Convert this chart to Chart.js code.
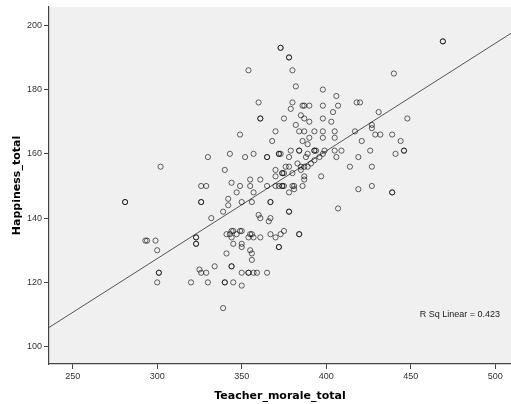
<!DOCTYPE html>
<html>
<head>
<meta charset="utf-8">
<title>Happiness vs Teacher morale</title>
<script src="https://cdn.jsdelivr.net/npm/chart.js"></script>
<style>
  html, body { margin: 0; padding: 0; background: #ffffff; }
  canvas { display: block; }
</style>
</head>
<body>
<canvas id="scatter" width="511" height="404"></canvas>
<script>
// values (duplicates = darker circles)
const teacherMorale = [
  373,373,469,469,378,378,354,380,440,382,398,406,360,380,418,420,386,387,390,398,
  407,379,431,404,385,361,361,375,387,398,448,390,403,382,427,427,370,384,387,393,
  398,405,417,349,429,432,439,390,398,405,368,386,421,444,389,379,384,384,393,393,
  394,399,405,409,426,446,446,343,357,372,372,373,389,398,441,330,352,365,365,378,
  388,396,406,419,393,383,391,302,376,378,385,387,389,414,427,340,370,385,374,374,
  375,380,370,387,397,355,361,387,344,326,329,349,355,365,370,372,374,374,375,380,
  381,386,427,381,419,347,357,378,439,439,342,281,281,326,326,350,356,367,367,342,
  407,339,378,378,360,332,361,367,366,344,345,349,350,375,341,343,347,355,356,367,
  373,384,384,323,323,344,354,357,361,370,293,294,299,323,323,345,350,372,372,350,
  300,355,341,356,356,334,344,344,325,301,301,326,329,350,354,354,357,359,365,300,
  320,330,340,340,345,350,339
];
const happiness = [
  193,193,195,195,190,190,186,186,185,181,180,178,176,176,176,176,175,175,175,175,
  175,174,173,173,172,171,171,171,171,171,171,170,170,169,169,168,167,167,167,167,
  167,167,167,166,166,166,166,165,165,165,164,164,164,164,163,161,161,161,161,161,
  161,161,161,161,161,161,161,160,160,160,160,160,160,160,160,159,159,159,159,159,
  159,159,159,159,158,157,157,156,156,156,156,156,156,156,156,155,155,155,154,154,
  154,154,153,153,153,152,152,152,151,150,150,150,150,150,150,150,150,150,150,150,
  150,150,150,149,149,148,148,148,148,148,146,145,145,145,145,145,145,145,145,144,
  143,142,142,142,141,140,140,140,139,136,136,136,136,136,135,135,135,135,135,135,
  135,135,135,134,134,134,134,134,134,134,133,133,133,132,132,132,132,131,131,131,
  130,130,129,129,127,125,125,125,124,123,123,123,123,123,123,123,123,123,123,120,
  120,120,120,120,120,119,112
];

// linear fit as drawn (R Sq Linear = 0.423)
const fitIntercept = 26.9;
const fitSlope = 0.335;
const rSqLabel = 'R Sq Linear = 0.423';

const xRange = [236, 509.3];
const yRange = [94.6, 205.7];
const xTicks = [250, 300, 350, 400, 450, 500];
const yTicks = [100, 120, 140, 160, 180, 200];

const points = teacherMorale.map((x, i) => ({ x: x, y: happiness[i] }));
const fitLine = xRange.map(x => ({ x: x, y: fitIntercept + fitSlope * x }));

const plotBg = {
  id: 'plotBg',
  beforeDraw(chart) {
    const { ctx, chartArea: a } = chart;
    ctx.save();
    ctx.fillStyle = '#f0f0f0';
    ctx.fillRect(a.left, a.top, a.right - a.left, a.bottom - a.top);
    ctx.restore();
  }
};

const rSqText = {
  id: 'rSqText',
  afterDatasetsDraw(chart) {
    const { ctx, chartArea: a, scales } = chart;
    ctx.save();
    ctx.font = '9px "Liberation Sans", Arial, sans-serif';
    ctx.fillStyle = '#222';
    ctx.textAlign = 'right';
    ctx.textBaseline = 'middle';
    ctx.fillText(rSqLabel, a.right - 11, scales.y.getPixelForValue(110));
    ctx.restore();
  }
};

const tickFont = { family: '"Liberation Sans", Arial, sans-serif', size: 9 };
const titleFont = { family: '"DejaVu Sans", sans-serif', size: 11, weight: 'bold' };

new Chart(document.getElementById('scatter').getContext('2d'), {
  type: 'scatter',
  data: {
    datasets: [
      {
        label: 'Fit',
        data: fitLine,
        showLine: true,
        borderColor: '#555',
        borderWidth: 1,
        pointRadius: 0,
        order: 2
      },
      {
        label: 'Happiness_total',
        data: points,
        pointStyle: 'circle',
        pointRadius: 2.6,
        borderWidth: 1,
        borderColor: 'rgba(0,0,0,0.6)',
        backgroundColor: 'rgba(0,0,0,0)',
        order: 1
      }
    ]
  },
  options: {
    responsive: false,
    animation: false,
    layout: { autoPadding: false, padding: { top: 7, left: 0, right: 0, bottom: 0 } },
    plugins: {
      legend: { display: false },
      tooltip: { enabled: false }
    },
    scales: {
      x: {
        type: 'linear',
        min: xRange[0],
        max: xRange[1],
        afterBuildTicks: s => { s.ticks = xTicks.map(v => ({ value: v })); },
        afterFit: s => { s.height = 40; s.paddingLeft = 0; s.paddingRight = 0; },
        grid: { drawOnChartArea: false, tickLength: 5, tickColor: '#444' },
        border: { color: '#444', width: 1.2 },
        ticks: { font: tickFont, color: '#333', padding: 2, maxRotation: 0 },
        title: { display: true, text: 'Teacher_morale_total', font: titleFont, color: '#000', padding: { top: 0, bottom: 1 } }
      },
      y: {
        type: 'linear',
        min: yRange[0],
        max: yRange[1],
        afterBuildTicks: s => { s.ticks = yTicks.map(v => ({ value: v })); },
        afterFit: s => { s.width = 49; s.paddingTop = 0; s.paddingBottom = 0; },
        grid: { drawOnChartArea: false, tickLength: 5, tickColor: '#444' },
        border: { color: '#444', width: 1.2 },
        ticks: { font: tickFont, color: '#333', padding: 2 },
        title: { display: true, text: 'Happiness_total', font: titleFont, color: '#000', padding: { top: 11, bottom: 0 } }
      }
    }
  },
  plugins: [plotBg, rSqText]
});
</script>
</body>
</html>
